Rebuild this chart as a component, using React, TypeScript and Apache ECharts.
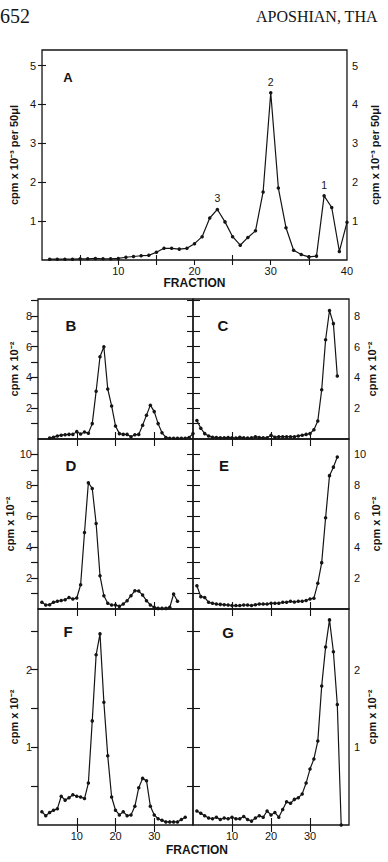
import React, { useEffect, useRef } from 'react';
import * as echarts from 'echarts';

// ---------- data ----------
const fractionMin = 0;
const fractionMax = 40;

// Panel A (fractions 1..40), cpm x 10^-3 per 50 µl
const aStart = 1;
const aValues = [
  0.02, 0.02, 0.02, 0.02, 0.03, 0.03, 0.04, 0.03, 0.03, 0.04,
  0.07, 0.09, 0.11, 0.12, 0.2, 0.3, 0.3, 0.28, 0.3, 0.42,
  0.6, 1.08, 1.3, 0.98, 0.6, 0.38, 0.58, 0.75, 1.75, 4.3,
  1.85, 0.83, 0.25, 0.14, 0.08, 0.1, 1.65, 1.35, 0.22, 0.97,
];
const aPeakFractions = [37, 30, 23];
const aPeakNames = ['1', '2', '3'];

// Panels B..G, cpm x 10^-2
const bStart = 3;
const bValues = [
  0.06, 0.12, 0.2, 0.25, 0.28, 0.3, 0.3, 0.48, 0.32, 0.45,
  0.38, 1.0, 3.1, 5.35, 6.0, 3.25, 2.15, 0.85, 0.35, 0.3,
  0.3, 0.15, 0.28, 0.3, 0.9, 1.55, 2.2, 1.78, 1.0, 0.4,
  0.1, 0.05, 0.05, 0.05, 0.05, 0.05, 0.1, 0.35,
];
const cStart = 1;
const cValues = [
  1.2, 0.7, 0.35, 0.2, 0.12, 0.1, 0.08, 0.08, 0.1, 0.08,
  0.06, 0.12, 0.08, 0.06, 0.08, 0.15, 0.1, 0.08, 0.08, 0.25,
  0.12, 0.15, 0.15, 0.15, 0.15, 0.15, 0.2, 0.25, 0.3, 0.35,
  0.6, 1.17, 3.2, 6.45, 8.35, 7.5, 4.1,
];
const dStart = 1;
const dValues = [
  0.43, 0.26, 0.28, 0.43, 0.5, 0.55, 0.6, 0.75, 0.65, 0.71,
  1.57, 4.95, 8.17, 7.8, 5.53, 2.15, 0.86, 0.37, 0.26, 0.26,
  0.17, 0.32, 0.54, 0.86, 1.18, 1.16, 0.9, 0.54, 0.26, 0.11,
  0.04, 0.04, 0.04, 0.11, 0.97, 0.5,
];
const eStart = 1;
const eValues = [
  1.5, 0.8, 0.75, 0.43, 0.37, 0.32, 0.3, 0.28, 0.26, 0.22,
  0.22, 0.22, 0.26, 0.26, 0.22, 0.28, 0.32, 0.32, 0.32, 0.37,
  0.37, 0.37, 0.43, 0.43, 0.5, 0.45, 0.5, 0.5, 0.55, 0.65,
  0.7, 1.66, 3.0, 5.9, 8.63, 9.18, 9.83,
];
const fStart = 1;
const fValues = [
  0.17, 0.12, 0.16, 0.19, 0.21, 0.37, 0.32, 0.35, 0.39, 0.37,
  0.36, 0.34, 0.54, 1.34, 2.19, 2.46, 1.58, 0.89, 0.36, 0.19,
  0.13, 0.17, 0.12, 0.13, 0.24, 0.48, 0.6, 0.57, 0.24, 0.13,
  0.08, 0.06, 0.04, 0.04, 0.04, 0.04, 0.07, 0.1,
];
const gStart = 1;
const gValues = [
  0.18, 0.15, 0.12, 0.09, 0.08, 0.1, 0.07, 0.09, 0.08, 0.1,
  0.08, 0.08, 0.11, 0.07, 0.05, 0.09, 0.12, 0.1, 0.18, 0.13,
  0.16, 0.1, 0.2, 0.3, 0.28, 0.33, 0.35, 0.4, 0.54, 0.72,
  0.85, 1.08, 1.79, 2.29, 2.64, 2.23, 1.55, 0,
];

// ticks / labels
const aXTopTicks = [5, 10, 15, 20, 25, 30, 35];
const aXBottomTicks = [5, 15, 25, 35];
const aXLabels = [10, 20, 30, 40];
const aYTicks = [1, 2, 3, 4, 5];
const aYLabels = [1, 2, 3, 4, 5];
const panelXTicks = [10, 20, 30];
const panelXLabels = [10, 20, 30];
const bcYTicks = [1, 2, 3, 4, 5, 6, 7, 8, 9];
const bcYLabels = [2, 4, 6, 8];
const deYTicks = [1, 2, 3, 4, 5, 6, 7, 8, 9, 10];
const deYLabels = [2, 4, 6, 8, 10];
const fgYTicks = [0.5, 1, 1.5, 2, 2.5];
const fgYLabels = [1, 2];

const yMaxA = 5.4;
const yMaxBC = 9.1;
const yMaxDE = 11;
const yMaxFG = 2.78;

const panelLetters = ['A', 'B', 'C', 'D', 'E', 'F', 'G'];
const nameA = 'cpm x 10\u207B\u00B3 per 50\u03BCl';
const namePanel = 'cpm x 10\u207B\u00B2';
const xName = 'FRACTION';
const pageNumber = '652';
const runningHead = 'APOSHIAN, THA';

// ---------- styles ----------
const INK = '#141414';
const FONT = '"Liberation Sans", Arial, Helvetica, sans-serif';
const SERIF = '"Liberation Serif", "Times New Roman", serif';

const tickText = { fontFamily: FONT, fontSize: 11, color: INK };
const nameText = { fontFamily: FONT, fontSize: 11, fontWeight: 'bold' as const, color: INK };

function pairs(start: number, values: number[]) {
  return values.map((v, i) => [start + i, v]);
}

function xAxis(g: number, pos: 'top' | 'bottom', ticks: number[], labels: number[] | null, len: number, name?: string, gap?: number) {
  return {
    type: 'value',
    gridIndex: g,
    position: pos,
    min: fractionMin,
    max: fractionMax,
    axisLine: { show: false },
    splitLine: { show: false },
    axisTick: { show: true, inside: true, length: len, customValues: ticks, lineStyle: { color: INK, width: 1.1 } },
    axisLabel: labels ? { show: true, customValues: labels, margin: 5, ...tickText } : { show: false },
    name: name || '',
    nameLocation: 'middle',
    nameGap: gap || 0,
    nameTextStyle: { ...nameText, fontSize: 12 },
  };
}

function yAxis(g: number, pos: 'left' | 'right', max: number, ticks: number[], inside: boolean, len: number, labels: number[] | null, name?: string, gap?: number) {
  return {
    type: 'value',
    gridIndex: g,
    position: pos,
    min: 0,
    max,
    axisLine: { show: false },
    splitLine: { show: false },
    axisTick: { show: true, inside, length: len, customValues: ticks, lineStyle: { color: INK, width: 1.1 } },
    axisLabel: labels ? { show: true, customValues: labels, margin: pos === 'left' ? 6 : 5, ...tickText } : { show: false },
    name: name || '',
    nameLocation: 'middle',
    nameRotate: 90,
    nameGap: gap || 0,
    nameTextStyle: nameText,
  };
}

function lineSeries(g: number, data: any[]) {
  return {
    type: 'line',
    xAxisIndex: 2 * g,
    yAxisIndex: 2 * g,
    data,
    symbol: 'circle',
    symbolSize: 3.5,
    showAllSymbol: true,
    lineStyle: { color: INK, width: 1.2 },
    itemStyle: { color: INK },
    emphasis: { disabled: true },
  };
}

export default function App() {
  const ref = useRef<HTMLDivElement>(null);

  useEffect(() => {
    if (!ref.current) return;
    const chart = echarts.init(ref.current, undefined, { renderer: 'svg' });

    const grids = [
      { left: 38, top: 50, width: 311, height: 210 },
      { left: 38, top: 299, width: 155, height: 140 },
      { left: 193, top: 299, width: 156, height: 140 },
      { left: 38, top: 439, width: 155, height: 170 },
      { left: 193, top: 439, width: 156, height: 170 },
      { left: 38, top: 609, width: 155, height: 216 },
      { left: 193, top: 609, width: 156, height: 216 },
    ].map((gr) => ({ ...gr, show: true, borderColor: INK, borderWidth: 1.3, backgroundColor: 'transparent' }));

    const xAxes: any[] = [];
    const yAxes: any[] = [];

    // A
    xAxes.push(xAxis(0, 'bottom', aXBottomTicks, aXLabels, 5, xName, 17));
    xAxes.push(xAxis(0, 'top', aXTopTicks, null, 5));
    yAxes.push(yAxis(0, 'left', yMaxA, aYTicks, false, 4, aYLabels, nameA, 21));
    yAxes.push(yAxis(0, 'right', yMaxA, aYTicks, false, 4, aYLabels, nameA, 21));

    const rows = [
      { max: yMaxBC, ticks: bcYTicks, labels: bcYLabels },
      { max: yMaxDE, ticks: deYTicks, labels: deYLabels },
      { max: yMaxFG, ticks: fgYTicks, labels: fgYLabels },
    ];
    rows.forEach((row, r) => {
      const gl = 1 + 2 * r;
      const gr = gl + 1;
      const isBottom = r === 2;
      // left panel
      xAxes.push(xAxis(gl, 'bottom', panelXTicks, isBottom ? panelXLabels : null, 7));
      xAxes.push(xAxis(gl, 'top', panelXTicks, null, 7));
      yAxes.push(yAxis(gl, 'left', row.max, row.ticks, false, 6, row.labels, namePanel, 19));
      yAxes.push(yAxis(gl, 'right', row.max, row.ticks, true, 7, null));
      // right panel
      xAxes.push(xAxis(gr, 'bottom', panelXTicks, isBottom ? panelXLabels : null, 7));
      xAxes.push(xAxis(gr, 'top', panelXTicks, null, 7));
      yAxes.push(yAxis(gr, 'left', row.max, row.ticks, true, 7, null));
      yAxes.push(yAxis(gr, 'right', row.max, row.ticks, true, 6, row.labels, namePanel, 17));
    });

    const aData = pairs(aStart, aValues).map((p) => {
      const k = aPeakFractions.indexOf(p[0]);
      if (k < 0) return p;
      return {
        value: p,
        label: { show: true, formatter: aPeakNames[k], position: 'top', distance: 4, ...tickText, fontSize: 10.5 },
      };
    });

    const series = [
      lineSeries(0, aData),
      lineSeries(1, pairs(bStart, bValues)),
      lineSeries(2, pairs(cStart, cValues)),
      lineSeries(3, pairs(dStart, dValues)),
      lineSeries(4, pairs(eStart, eValues)),
      lineSeries(5, pairs(fStart, fValues)),
      lineSeries(6, pairs(gStart, gValues)),
    ];

    const letterPos = [
      [68, 77, 13],
      [71, 325, 15],
      [223, 325, 15],
      [71, 465, 15],
      [224, 465, 15],
      [68, 631, 15],
      [228, 632, 15],
    ];
    const graphic: any[] = panelLetters.map((t, i) => ({
      type: 'text',
      x: letterPos[i][0],
      y: letterPos[i][1],
      style: {
        text: t,
        font: `bold ${letterPos[i][2]}px ${FONT}`,
        fill: INK,
        align: 'center',
        verticalAlign: 'middle',
      },
    }));
    graphic.push({
      type: 'text', x: 197, y: 850,
      style: { text: xName, font: `bold 12px ${FONT}`, fill: INK, align: 'center', verticalAlign: 'middle' },
    });
    graphic.push({
      type: 'text', x: 0, y: 16,
      style: { text: pageNumber, font: `20px ${SERIF}`, fill: INK, align: 'left', verticalAlign: 'middle' },
    });
    graphic.push({
      type: 'text', x: 256, y: 16,
      style: { text: runningHead, font: `16px ${SERIF}`, fill: INK, align: 'left', verticalAlign: 'middle' },
    });

    chart.setOption({
      animation: false,
      backgroundColor: '#ffffff',
      grid: grids,
      xAxis: xAxes,
      yAxis: yAxes,
      series,
      graphic,
    });

    return () => chart.dispose();
  }, []);

  return <div ref={ref} style={{ position: 'fixed', left: 0, top: 0, width: 388, height: 862, background: '#fff' }} />;
}
